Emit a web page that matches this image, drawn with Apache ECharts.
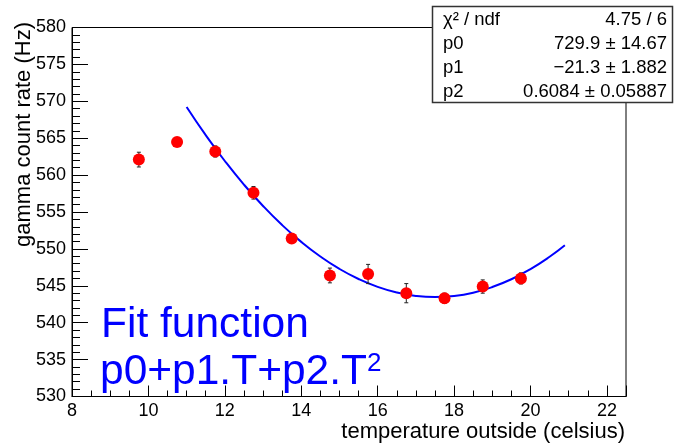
<!DOCTYPE html>
<html>
<head>
<meta charset="utf-8">
<script src="https://cdn.jsdelivr.net/npm/echarts@6/dist/echarts.min.js"></script>
<style>
html,body{margin:0;padding:0;background:#fff;}
#chart{width:677px;height:443px;}
</style>
</head>
<body>
<div id="chart"></div>
<script>
// ---- data ----
const temperature = [9.75, 10.75, 11.75, 12.75, 13.75, 14.75, 15.75, 16.75, 17.75, 18.75, 19.75];
const countRate   = [562.1, 564.5, 563.2, 557.6, 551.4, 546.4, 546.6, 544.0, 543.3, 544.9, 546.0];
const countErr    = [1.0, 0.3, 0.75, 0.85, 0.5, 1.0, 1.3, 1.3, 0.7, 0.9, 0.75];
const fitT   = [11.0, 11.5, 12.0, 12.5, 13.0, 13.5, 14.0, 14.5, 15.0, 15.5, 16.0, 16.5, 17.0, 17.5, 18.0, 18.5, 19.0, 19.5, 20.0, 20.5, 20.9];
const fitVal = [569.22, 565.41, 561.91, 558.71, 555.82, 553.23, 550.95, 548.97, 547.29, 545.92, 544.85, 544.09, 543.63, 543.47, 543.62, 544.07, 544.83, 545.89, 547.26, 548.93, 550.49];
const statNames  = ['\u03c7\u00b2 / ndf', 'p0', 'p1', 'p2'];
const statValues = ['4.75 / 6', '729.9 \u00b1 14.67', '\u221221.3 \u00b1 1.882', '0.6084 \u00b1 0.05887'];
const xTitle = 'temperature outside (celsius)';
const yTitle = 'gamma count rate (Hz)';

const FONT = '"Liberation Sans", Arial, sans-serif';

const chart = echarts.init(document.getElementById('chart'));

const statGraphics = [];
statNames.forEach((n, i) => {
  const cy = 20 + i * 24;
  statGraphics.push({type:'text', x:443, y:cy, z:101, style:{text:n, font:'18.5px ' + FONT, fill:'#000', align:'left', verticalAlign:'middle'}});
  statGraphics.push({type:'text', x:667, y:cy, z:101, style:{text:statValues[i], font:'18.5px ' + FONT, fill:'#000', align:'right', verticalAlign:'middle'}});
});

const option = {
  animation: false,
  backgroundColor: '#fff',
  grid: {left: 72, right: 51, top: 27.5, bottom: 46.5, show: true, borderColor: '#000', borderWidth: 1, backgroundColor: 'transparent'},
  xAxis: {
    type: 'value', min: 8, max: 22.5, interval: 2,
    axisLine: {show: true, onZero: false, lineStyle: {color: '#000', width: 1}},
    axisTick: {show: true, inside: true, length: 11, lineStyle: {color: '#000'}},
    minorTick: {show: true, splitNumber: 4, length: 6, lineStyle: {color: '#000'}},
    splitLine: {show: false},
    axisLabel: {color: '#000', fontFamily: FONT, fontSize: 18, margin: 6, showMaxLabel: false,
      formatter: v => (v % 2 === 0 ? String(v) : '')}
  },
  yAxis: {
    type: 'value', min: 530, max: 580, interval: 5,
    axisLine: {show: true, onZero: false, lineStyle: {color: '#000', width: 1}},
    axisTick: {show: true, inside: true, length: 16, lineStyle: {color: '#000'}},
    minorTick: {show: true, splitNumber: 5, length: 8, lineStyle: {color: '#000'}},
    splitLine: {show: false},
    axisLabel: {color: '#000', fontFamily: FONT, fontSize: 18, margin: 6}
  },
  series: [
    {
      type: 'line', data: fitT.map((t, i) => [t, fitVal[i]]), smooth: true,
      showSymbol: false, symbol: 'none', lineStyle: {color: '#0000ff', width: 2}, z: 2
    },
    {
      type: 'custom', z: 3,
      data: temperature.map((t, i) => [t, countRate[i], countErr[i]]),
      renderItem: function (params, api) {
        const x = api.value(0), y = api.value(1), e = api.value(2);
        const p1 = api.coord([x, y + e]);
        const p2 = api.coord([x, y - e]);
        const st = {stroke: '#222', lineWidth: 1};
        return {type: 'group', children: [
          {type: 'line', shape: {x1: p1[0], y1: p1[1], x2: p2[0], y2: p2[1]}, style: st},
          {type: 'line', shape: {x1: p1[0] - 2, y1: p1[1], x2: p1[0] + 2, y2: p1[1]}, style: st},
          {type: 'line', shape: {x1: p2[0] - 2, y1: p2[1], x2: p2[0] + 2, y2: p2[1]}, style: st}
        ]};
      }
    },
    {
      type: 'scatter', data: temperature.map((t, i) => [t, countRate[i]]),
      symbol: 'circle', symbolSize: 12, itemStyle: {color: '#ff0000', opacity: 1}, z: 4
    }
  ],
  graphic: [
    {type: 'text', x: 625, y: 432, style: {text: xTitle, font: '22px ' + FONT, fill: '#000', align: 'right', verticalAlign: 'middle'}},
    {type: 'text', x: 24, y: 22, rotation: Math.PI / 2, style: {text: yTitle, font: '22px ' + FONT, fill: '#000', align: 'right', verticalAlign: 'middle'}},
    {type: 'text', x: 101, y: 325, z: 50, style: {text: 'Fit function', font: '42.5px ' + FONT, fill: '#0000ff', align: 'left', verticalAlign: 'middle'}},
    {type: 'text', x: 100, y: 372, z: 50, style: {
      text: '{a|p0+p1.T+p2.T}{s|2}', align: 'left', verticalAlign: 'middle', fill: '#0000ff',
      rich: {a: {fontSize: 42.5, fontFamily: FONT, color: '#0000ff', fill: '#0000ff'},
             s: {fontSize: 26, fontFamily: FONT, color: '#0000ff', fill: '#0000ff', verticalAlign: 'top', lineHeight: 42}}
    }},
    {type: 'rect', shape: {x: 432.5, y: 6.5, width: 240, height: 96}, z: 100, style: {fill: '#fff', stroke: '#333', lineWidth: 1.5}}
  ].concat(statGraphics)
};
chart.setOption(option);
</script>
</body>
</html>
